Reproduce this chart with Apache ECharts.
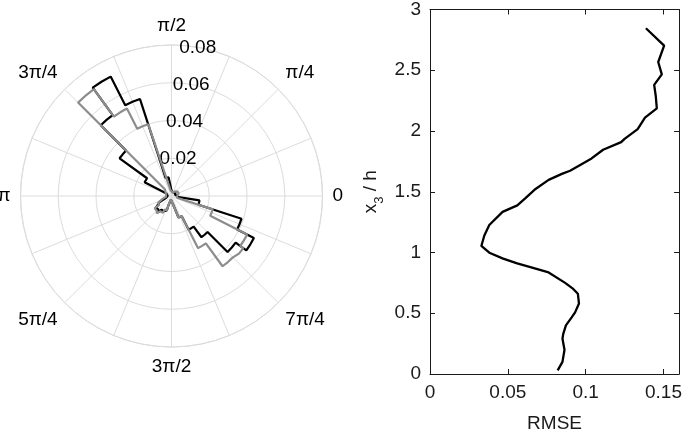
<!DOCTYPE html>
<html><head><meta charset="utf-8">
<script src="https://cdn.jsdelivr.net/npm/echarts@6/dist/echarts.min.js"></script>
<style>html,body{margin:0;padding:0;background:#fff}#c{width:685px;height:438px}</style>
</head><body><div id="c"></div>
<script>
// ---- polar histogram (stairs), 40 bins of 9 degrees ----
const binStepDeg = 9;
const blackBins = [0.003,0.002,0.002,0.002,0.002,0.003,0.002,0.002,0.002,0.002,
                   0.003,0.010,0.054,0.071,0.053,0.034,0.016,0.003,0.002,0.002,
                   0.002,0.003,0.004,0.007,0.010,0.011,0.009,0.008,0.005,0.002,
                   0.002,0.004,0.012,0.020,0.027,0.042,0.049,0.039,0.015,0.003];
const grayBins  = [0.003,0.003,0.004,0.004,0.004,0.004,0.003,0.003,0.002,0.002,
                   0.002,0.003,0.040,0.052,0.070,0.005,0.004,0.003,0.002,0.002,
                   0.003,0.003,0.005,0.008,0.011,0.012,0.010,0.008,0.004,0.002,
                   0.002,0.004,0.012,0.031,0.046,0.047,0.045,0.023,0.003,0.003];
const angleTickLabels = {0:'0',45:'π/4',90:'π/2',135:'3π/4',180:'π',225:'5π/4',270:'3π/2',315:'7π/4'};
const radiusMax = 0.08, radiusStep = 0.02;

// ---- RMSE profile ----
const heightValues = [0.03,0.10,0.20,0.29,0.33,0.40,0.466,0.507,0.58,0.66,0.70,0.75,0.836,0.876,0.91,0.95,0.998,1.054,1.14,1.226,1.334,1.388,1.45,1.523,1.598,1.647,1.673,1.774,1.846,1.908,1.935,2.016,2.110,2.186,2.29,2.380,2.466,2.568,2.703,2.846];
const rmseValues   = [0.0820,0.0851,0.0864,0.0851,0.0856,0.0873,0.0910,0.0932,0.0957,0.0950,0.0920,0.0868,0.0762,0.0656,0.0560,0.0470,0.0381,0.0330,0.0349,0.0381,0.0466,0.0561,0.0615,0.0678,0.0762,0.0847,0.0900,0.1038,0.1112,0.1228,0.1250,0.1334,0.1381,0.1457,0.1450,0.1440,0.1489,0.1466,0.1504,0.1387];

function stairs(bins){
  const pts = [];
  bins.forEach((v,i)=>{
    const a0 = i*binStepDeg;
    pts.push([v,a0],[v,a0+binStepDeg/2],[v,a0+binStepDeg]);
  });
  pts.push(pts[0]);
  return pts;
}

const FONT = "'Liberation Sans', Arial, Helvetica, sans-serif";
const gridColor = '#dcdcdc';
const axisColor = '#1a1a1a';
const chart = echarts.init(document.getElementById('c'));
chart.setOption({
  animation:false,
  backgroundColor:'#fff',
  textStyle:{fontFamily:FONT},
  polar:[{center:[171.5,196],radius:151},{center:[171.5,196],radius:151}],
  angleAxis:[
    {polarIndex:0,type:'value',min:0,max:360,interval:22.5,startAngle:0,clockwise:false,
     axisLine:{show:true,lineStyle:{color:gridColor,width:1}},
     axisTick:{show:false},
     splitLine:{show:true,lineStyle:{color:gridColor,width:1}},
     axisLabel:{show:true,margin:10,fontSize:19,color:'#000',fontFamily:FONT,
       formatter:v=>angleTickLabels[v] !== undefined ? angleTickLabels[v] : ''}},
    {polarIndex:1,type:'value',min:0,max:360,startAngle:80,clockwise:false,
     axisLine:{show:false},axisTick:{show:false},splitLine:{show:false},axisLabel:{show:false}}
  ],
  radiusAxis:[
    {polarIndex:0,type:'value',min:0,max:radiusMax,interval:radiusStep,
     axisLine:{show:false},axisTick:{show:false},axisLabel:{show:false},
     splitLine:{show:true,lineStyle:{color:gridColor,width:1}}},
    {polarIndex:1,type:'value',min:0,max:radiusMax,interval:radiusStep,
     axisLine:{show:false},axisTick:{show:false},splitLine:{show:false},
     axisLabel:{show:true,margin:0,align:'center',verticalAlign:'middle',fontSize:19,color:'#000',fontFamily:FONT,
       formatter:v=> v===0 ? '' : v.toFixed(2)}}
  ],
  grid:{left:430,top:7,width:252,height:371},
  xAxis:[
    {type:'value',min:0,max:0.16,interval:0.05,position:'bottom',
     axisLine:{show:true,onZero:false,lineStyle:{color:axisColor,width:1}},
     axisTick:{show:true,inside:true,length:5,lineStyle:{color:axisColor}},
     axisLabel:{margin:9,fontSize:19,color:axisColor,fontFamily:FONT,showMaxLabel:false},
     splitLine:{show:false},
     name:'RMSE',nameLocation:'middle',nameGap:40,
     nameTextStyle:{fontSize:19,color:axisColor,fontFamily:FONT}},
    {type:'value',min:0,max:0.16,interval:0.05,position:'top',
     axisLine:{show:true,onZero:false,lineStyle:{color:axisColor,width:1}},
     axisTick:{show:true,inside:true,length:5,lineStyle:{color:axisColor}},
     axisLabel:{show:false},splitLine:{show:false}}
  ],
  yAxis:[
    {type:'value',min:0,max:3,interval:0.5,position:'left',
     axisLine:{show:true,onZero:false,lineStyle:{color:axisColor,width:1}},
     axisTick:{show:true,inside:true,length:5,lineStyle:{color:axisColor}},
     axisLabel:{margin:9,fontSize:19,color:axisColor,fontFamily:FONT},
     splitLine:{show:false},
     name:'x{sub|3} / h',nameLocation:'middle',nameGap:44,nameRotate:90,
     nameTextStyle:{fontSize:19,color:axisColor,fontFamily:FONT,lineHeight:30,
       rich:{sub:{fontSize:13,lineHeight:13,verticalAlign:'bottom',color:axisColor,fontFamily:FONT}}}},
    {type:'value',min:0,max:3,interval:0.5,position:'right',
     axisLine:{show:true,onZero:false,lineStyle:{color:axisColor,width:1}},
     axisTick:{show:true,inside:true,length:5,lineStyle:{color:axisColor}},
     axisLabel:{show:false},splitLine:{show:false}}
  ],
  series:[
    {type:'line',coordinateSystem:'polar',polarIndex:0,data:stairs(blackBins),
     symbol:'none',lineStyle:{color:'#000',width:2.2},z:3},
    {type:'line',coordinateSystem:'polar',polarIndex:0,data:stairs(grayBins),
     symbol:'none',lineStyle:{color:'#8c8c8c',width:2.2},z:4},
    {type:'line',xAxisIndex:0,yAxisIndex:0,
     data:rmseValues.map((r,i)=>[r,heightValues[i]]),
     symbol:'none',lineStyle:{color:'#000',width:2.3}}
  ]
});
</script>
</body></html>
